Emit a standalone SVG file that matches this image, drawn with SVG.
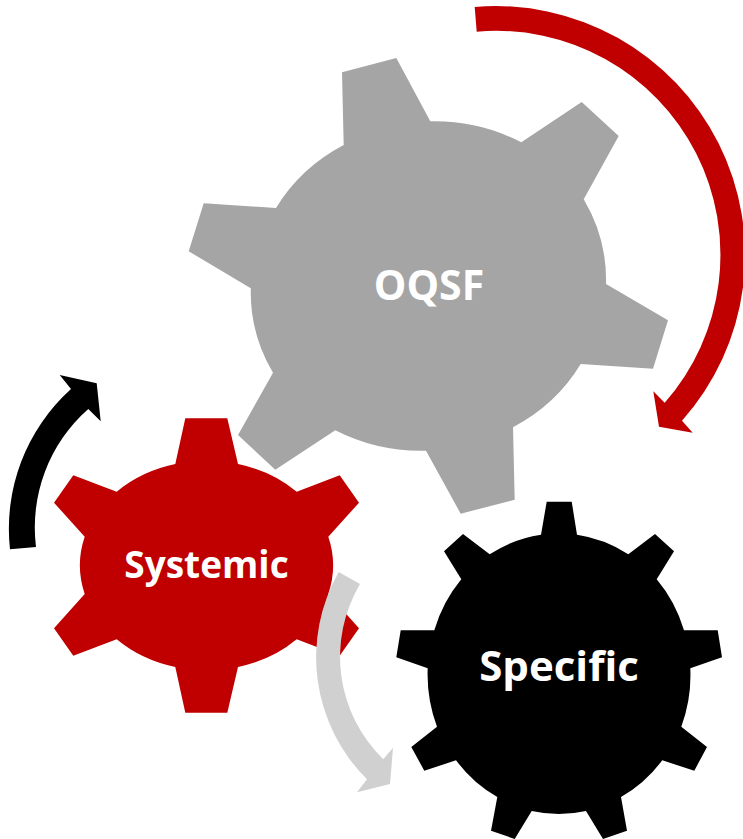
<svg xmlns="http://www.w3.org/2000/svg" width="743" height="839" viewBox="0 0 743 839">
<style>
.lbl{font-family:"Open Sans","Noto Sans","Liberation Sans",sans-serif;font-weight:700;fill:#fff;text-anchor:middle}
</style>
<rect width="743" height="839" fill="#fff"/>
<g id="oqsf">
<path fill="#A5A5A5" d="M342 72.3L396.3 58L430.3 121.3A178 166 0 0 1 521.3 142.3L581.7 102L618.7 136L583.7 199.3A178 166 0 0 1 606 284L668 320.3L653 368.7L580.7 364A178 166 0 0 1 513 427.2L514.7 499.7L460.7 513.7L426 450.7A178 166 0 0 1 335.3 430.3L275.3 469.7L238 435L273 372.7A178 166 0 0 1 250.8 288.3L188.7 251.3L203.7 203.3L276 208A178 166 0 0 1 343.7 145Z"/>
<text class="lbl" x="429" y="300" font-size="41">OQSF</text>
</g>
<g id="systemic">
<path fill="#C00000" d="M185.3 418.3H227.3L238 464A126 105 0 0 1 296.7 491.7L339.7 475.3L359 502.7L328.3 536.7A126 105 0 0 1 328.3 594L359 628.3L339.7 655.7L296.7 639.3A126 105 0 0 1 238 667L227.3 712.7H185.3L175.3 667A126 105 0 0 1 116.7 639.3L73.3 655.7L54 628.3L84.7 594A126 105 0 0 1 84.7 536.7L54 502.7L73.3 475.3L116.7 491.7A126 105 0 0 1 175.3 464Z"/>
<text class="lbl" x="206.5" y="578" font-size="37">Systemic</text>
</g>
<g id="specific">
<path fill="#000" d="M546.7 501.7H571.7L577 534.7A131.5 140 0 0 1 628.3 554.3L655 534L674 551.3L656.7 579.3A131.5 140 0 0 1 684 630.3H717.7L722 657.3L690.3 668.3A131.5 140 0 0 1 681.3 726.7L707 747L694.3 770.7L662.3 760.3A131.5 140 0 0 1 621 797L627 830.7L603 839L586 811A131.5 140 0 0 1 531.7 811L514.7 839L491 830.7L497.3 797A131.5 140 0 0 1 456 760.3L424.3 770.7L411.3 747L437 726.7A131.5 140 0 0 1 427.7 668.3L396.3 657.3L400.7 630.3H434.3A131.5 140 0 0 1 461.3 579.3L444 551.3L463 534L489.7 554.3A131.5 140 0 0 1 541 534.7Z"/>
<text class="lbl" x="559" y="681" font-size="42">Specific</text>
</g>
<g id="connectors">
<path fill="#C00000" d="M474.7 7A249 249 0 0 1 682 420.7L692.7 432.7L659 426.7L653.3 391.3L664.7 402.7A224 224 0 0 0 476.7 31.7Z"/>
<path fill="#000" d="M10 549.3A188 188 0 0 1 71 389L59.7 375L96.7 383.3L100.7 421.3L88.3 409A158 158 0 0 0 36 547Z"/>
<path fill="#D0D0D0" d="M338.7 572L360 584A143 143 0 0 0 383.3 759.3L393 747.7L390 784L357 792.3L367 779.3A172 172 0 0 1 338.7 572Z"/>
</g>
</svg>
